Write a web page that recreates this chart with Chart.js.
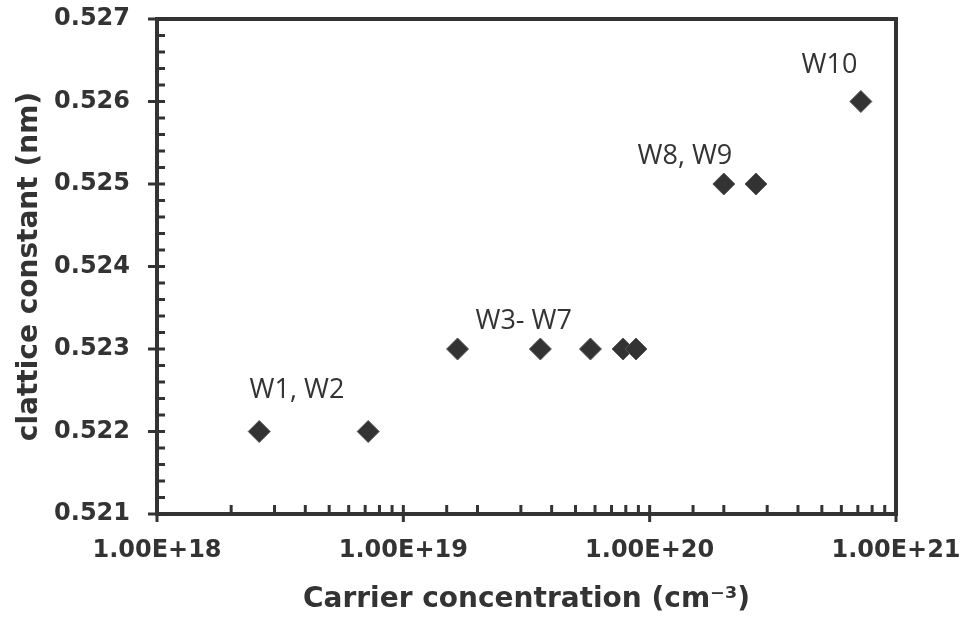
<!DOCTYPE html>
<html>
<head>
<meta charset="utf-8">
<script src="https://cdn.jsdelivr.net/npm/chart.js@4"></script>
<style>
  html, body { margin: 0; padding: 0; background: #fff; }
  #wrap { width: 972px; height: 617px; }
</style>
</head>
<body>
<div id="wrap"><canvas id="latticeChart"></canvas></div>
<script>
  // carrier concentration (cm-3) and lattice constant (nm)
  const carrier = [2.6e18, 7.2e18, 1.66e19, 3.6e19, 5.75e19, 7.8e19, 8.8e19, 2.0e20, 2.7e20, 7.2e20];
  const lattice = [0.522, 0.522, 0.523, 0.523, 0.523, 0.523, 0.523, 0.525, 0.525, 0.526];

  // sample group labels, anchored in data units
  const groupNames = ['W1, W2', 'W3- W7', 'W8, W9', 'W10'];
  const groupX = [3.7e18, 3.08e19, 1.39e20, 5.37e20];
  const groupY = [0.5225, 0.52333, 0.52534, 0.52644];

  const xMajor = [1e18, 1e19, 1e20, 1e21];
  const yMin = 0.521, yMax = 0.527;

  const ink = '#333333';

  const points = carrier.map((c, i) => ({ x: c, y: lattice[i] }));

  // drop the automatic label overflow padding so layout.padding decides the plot box
  function noOverflow(scale) {
    scale.paddingTop = 0;
    scale.paddingBottom = 0;
    scale.paddingLeft = 0;
    scale.paddingRight = 0;
  }

  // frame, tick marks and sample labels
  const framePlugin = {
    id: 'frame',
    afterDraw(chart) {
      const ctx = chart.ctx;
      const area = chart.chartArea;
      const xs = chart.scales.x, ys = chart.scales.y;
      ctx.save();
      ctx.strokeStyle = ink;
      ctx.lineWidth = 4;
      ctx.strokeRect(area.left, area.top, area.right - area.left, area.bottom - area.top);

      ctx.lineWidth = 3;
      ys.ticks.forEach(t => {
        const py = ys.getPixelForValue(t.value);
        const major = Math.round(t.value * 1e4) % 10 === 0;
        ctx.beginPath();
        ctx.moveTo(major ? area.left - 9 : area.left, py);
        ctx.lineTo(area.left + 8, py);
        ctx.stroke();
      });
      xs.ticks.forEach(t => {
        const px = xs.getPixelForValue(t.value);
        const major = xMajor.includes(t.value);
        ctx.beginPath();
        ctx.moveTo(px, area.bottom - 9);
        ctx.lineTo(px, major ? area.bottom + 8 : area.bottom);
        ctx.stroke();
      });

      ctx.fillStyle = ink;
      ctx.font = '27px "Open Sans"';
      ctx.textAlign = 'center';
      ctx.textBaseline = 'middle';
      groupNames.forEach((name, i) => {
        ctx.fillText(name, xs.getPixelForValue(groupX[i]), ys.getPixelForValue(groupY[i]));
      });
      ctx.restore();
    }
  };

  const latticeChart = new Chart(document.getElementById('latticeChart'), {
    type: 'scatter',
    data: {
      datasets: [{
        label: 'lattice constant',
        data: points,
        pointStyle: 'rectRot',
        pointRadius: 11,
        pointHoverRadius: 11,
        backgroundColor: ink,
        borderColor: '#555',
        borderWidth: 1
      }]
    },
    options: {
      responsive: true,
      maintainAspectRatio: false,
      animation: false,
      layout: { padding: { top: 19, right: 76, left: 0, bottom: 0 } },
      plugins: {
        legend: { display: false },
        tooltip: { enabled: false }
      },
      scales: {
        x: {
          type: 'logarithmic',
          min: 1e18,
          max: 1e21,
          grid: { display: false, drawTicks: false },
          border: { display: false },
          ticks: {
            autoSkip: false,
            maxRotation: 0,
            padding: 22,
            color: ink,
            font: { family: 'DejaVu Sans', weight: 'bold', size: 24 },
            callback: (v) => xMajor.includes(v) ? '1.00E+' + Math.round(Math.log10(v)) : ''
          },
          title: {
            display: true,
            text: 'Carrier concentration (cm⁻³)',
            color: ink,
            font: { family: 'DejaVu Sans', weight: 'bold', size: 28 },
            padding: { top: 4, bottom: 0 }
          },
          afterFit: (scale) => { scale.height = 617 - 514; noOverflow(scale); }
        },
        y: {
          min: yMin,
          max: yMax,
          grid: { display: false, drawTicks: false },
          border: { display: false },
          ticks: {
            stepSize: 0.0002,
            autoSkip: false,
            padding: 27,
            color: ink,
            font: { family: 'DejaVu Sans', weight: 'bold', size: 24 },
            callback: (v) => Math.round(v * 1e4) % 10 === 0 ? v.toFixed(3) : ''
          },
          title: {
            display: true,
            text: 'clattice constant (nm)',
            color: ink,
            font: { family: 'DejaVu Sans', weight: 'bold', size: 28 },
            padding: { top: 13, bottom: 0 }
          },
          afterFit: (scale) => { scale.width = 157; noOverflow(scale); }
        }
      }
    },
    plugins: [framePlugin]
  });
</script>
</body>
</html>
